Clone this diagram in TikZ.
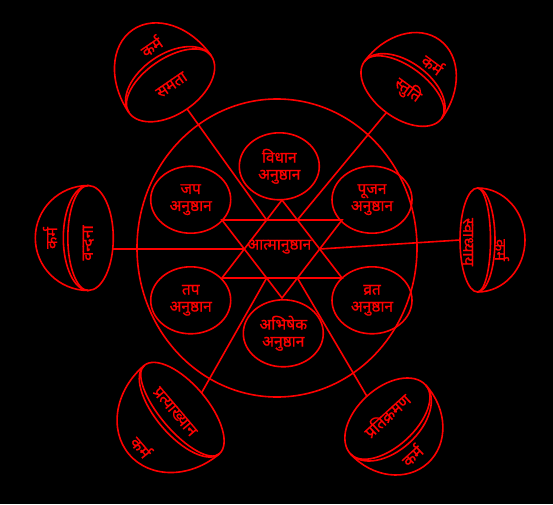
\documentclass[tikz,border=0pt]{standalone}
\usepackage{fontspec}
\newfontfamily\deva[Script=Devanagari, FakeBold=0.8]{Noto Sans}
\usetikzlibrary{shapes.geometric}
\definecolor{inkred}{HTML}{FF0000}
\definecolor{bgblack}{HTML}{000000}
\newcommand{\hemisphere}[7]{% x, y, angle, rim depth, half width, dome depth, rim name
  \begin{scope}[shift={(#1,#2)}, rotate=#3]
    \draw[rim] (0,0) ellipse [x radius=#4, y radius=#5];
    \draw[rim] (0,#5) arc [start angle=90, end angle=270, x radius=#4-4.5, y radius=#5];
    \draw[rim] (0,#5) arc [start angle=90, end angle=270, x radius=#6, y radius=#5];
    \coordinate (#7) at (#4,0);
  \end{scope}
}

\begin{document}
\begin{tikzpicture}[
  x=1pt, y=1pt,
  rim/.style={draw=inkred, line width=1.6pt},
  spoke/.style={inkred, line width=1.6pt},
  anu/.style={ellipse, draw=inkred, line width=1.6pt, minimum width=80pt, minimum height=67pt,
              inner sep=0pt, text=inkred, align=center, font=\deva\fontsize{15.5}{17}\selectfont},
  lbl/.style={text=inkred, inner sep=1pt, font=\deva\fontsize{16}{18}\selectfont},
]
\fill[bgblack] (0,0) rectangle (553,504);
\useasboundingbox (0,0) rectangle (553,504);

% =========================== wheel ===========================
\draw[rim] (277,256) ellipse [x radius=140, y radius=149];

\node[anu] (vidhan)  at (279.3,337.7) {विधान\\अनुष्ठान};
\node[anu] (jap)     at (190.7,304.3) {जप\\अनुष्ठान};
\node[anu] (pujan)   at (372,304.3)   {पूजन\\अनुष्ठान};
\node[anu] (tap)     at (190.7,203.7) {तप\\अनुष्ठान};
\node[anu] (vrat)    at (372,203.7)   {व्रत\\अनुष्ठान};
\node[anu] (abhishek) at (283.3,170.7) {अभिषेक\\अनुष्ठान};

% =========================== star ===========================
\coordinate (star-n)  at (282,304);
\coordinate (star-nw) at (222,284);
\coordinate (star-ne) at (342,284);
\coordinate (star-sw) at (222,226);
\coordinate (star-se) at (342,226);
\coordinate (star-s)  at (282,206);
\draw[rim] (star-n) -- (star-sw) -- (star-se) -- cycle;
\draw[rim] (star-s) -- (star-nw) -- (star-ne) -- cycle;

\coordinate (hex-w)  at (intersection of star-n--star-sw and star-nw--star-s);
\coordinate (hex-e)  at (intersection of star-n--star-se and star-ne--star-s);
\coordinate (hex-nw) at (intersection of star-n--star-sw and star-nw--star-ne);
\coordinate (hex-ne) at (intersection of star-n--star-se and star-nw--star-ne);
\coordinate (hex-sw) at (intersection of star-s--star-nw and star-sw--star-se);
\coordinate (hex-se) at (intersection of star-s--star-ne and star-sw--star-se);

\node[lbl, font=\deva\fontsize{15.5}{17}\selectfont] (atma) at (279.3,257.3) {आत्मानुष्ठान};

% =========================== hemispheres ===========================
\hemisphere{88.3}{266}{0}{25}{52.5}{53}{vandana-rim}
\hemisphere{477.5}{264}{180}{17.5}{52}{47.5}{svadhyay-rim}
\hemisphere{170.1}{419.8}{-55.5}{30}{50}{66}{samata-rim}
\hemisphere{403}{414}{-126.4}{28}{48}{62}{stuti-rim}
\hemisphere{181.7}{94.3}{40.3}{26}{58}{69}{pratyakhyan-rim}
\hemisphere{388.1}{84.5}{132.4}{31.5}{51}{59}{pratikraman-rim}

\node[lbl, rotate=90]  (vandana)  at (88.3,261)   {वन्दना};
\node[lbl, rotate=90]  (karma-w)  at (50,266)     {कर्म};
\node[lbl, rotate=-90] (svadhyay) at (468,262)    {स्वाध्याय};
\node[lbl, rotate=-90] (karma-e)  at (502,254)    {कर्म};
\node[lbl, rotate=34.5] (samata)  at (171.7,419)  {समता};
\node[lbl, rotate=34.5] (karma-nw) at (151,458)   {कर्म};
\node[lbl, rotate=-36.4] (stuti)  at (408,414)    {स्तुति};
\node[lbl, rotate=-36.4] (karma-ne) at (433,440)  {कर्म};
\node[lbl, rotate=-49.7] (pratyakhyan) at (175,92.3) {प्रत्याख्यान};
\node[lbl, rotate=-49.7] (karma-sw) at (141.7,57.3) {कर्म};
\node[lbl, rotate=42.4] (pratikraman) at (386.7,89) {प्रतिक्रमण};
\node[lbl, rotate=42.4] (karma-se) at (411.7,49)  {कर्म};

% spokes
\draw[spoke] (hex-w) -- (hex-w -| vandana-rim);
\draw[spoke] (hex-e) -- (svadhyay-rim);
\draw[spoke] (hex-nw) -- (samata-rim);
\draw[spoke] (hex-ne) -- (stuti-rim);
\draw[spoke] (hex-sw) -- (pratyakhyan-rim);
\draw[spoke] (hex-se) -- (pratikraman-rim);

\end{tikzpicture}
\end{document}
